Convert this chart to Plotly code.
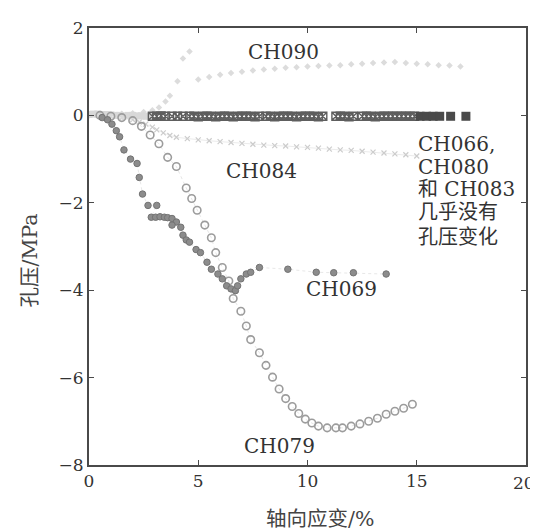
import plotly.graph_objects as go

# ---------------- data ----------------
ch090_x = [0.0, 0.5, 1.0, 1.5, 2.0, 2.5, 2.9, 3.2, 3.5, 3.7, 4.05, 4.3, 4.6,
           5.0, 5.5, 6.0, 6.5, 7.0, 7.5, 8.0, 8.5, 9.0, 9.5, 10.0, 10.5, 11.0,
           11.5, 12.0, 12.5, 13.0, 13.5, 14.0, 14.5, 15.0, 15.5, 16.0, 16.5, 17.0]
ch090_y = [0.0, 0.02, 0.03, 0.04, 0.05, 0.08, 0.12, 0.18, 0.32, 0.45, 0.78, 1.3, 1.46,
           0.82, 0.88, 0.93, 0.97, 1.0, 1.03, 1.05, 1.07, 1.09, 1.1, 1.12, 1.13, 1.14,
           1.15, 1.17, 1.18, 1.2, 1.21, 1.22, 1.2, 1.18, 1.17, 1.15, 1.14, 1.12]

ch083_x = [0.0, 0.2, 0.4, 0.6, 0.8, 1.0, 1.2, 1.4, 1.6, 1.8, 2.0, 2.2, 2.4, 2.6, 2.8]
ch083_y = [0.02, 0.03, 0.03, 0.02, 0.02, 0.01, 0.0, 0.0, -0.01, 0.0, 0.0, -0.01, -0.01, -0.02, -0.02]

ch066_x = [2.9, 3.1, 3.3, 3.5, 3.8, 4.05, 4.3,
           4.6, 4.8, 5.0, 5.2, 5.4, 5.6, 5.8, 6.0, 6.2, 6.4, 6.6, 6.8, 7.0, 7.2, 7.4, 7.6, 7.8,
           8.1, 8.3, 8.5, 8.7, 8.9, 9.1, 9.3, 9.5, 9.7, 9.9, 10.1, 10.3, 10.5, 10.7,
           11.3, 11.5, 11.7, 11.9, 12.1,
           12.5, 12.7, 12.9, 13.1, 13.3, 13.5, 13.7, 13.9,
           14.1, 14.3, 14.5, 14.7, 14.9]
ch066_y = [-0.02, -0.02, -0.01, -0.02, -0.02, -0.02, -0.02,
           -0.02, -0.02, -0.03, -0.02, -0.02, -0.02, -0.03, -0.02, -0.02, -0.02, -0.03, -0.02, -0.02, -0.02, -0.02, -0.03, -0.02,
           -0.02, -0.02, -0.03, -0.02, -0.02, -0.02, -0.02, -0.03, -0.02, -0.02, -0.02, -0.02, -0.03, -0.02,
           -0.02, -0.02, -0.02, -0.03, -0.02,
           -0.02, -0.02, -0.02, -0.03, -0.02, -0.02, -0.02, -0.02,
           -0.02, -0.02, -0.02, -0.02, -0.02]

ch080_x = [15.15, 15.45, 15.75, 16.05, 16.55, 17.25]
ch080_y = [-0.02, -0.02, -0.02, -0.02, -0.02, -0.02]

ch084_x = [0.5, 1.0, 1.5, 2.0, 2.3, 2.6, 2.9, 3.1, 3.4, 3.7, 4.0, 4.5, 5.0, 5.5, 6.0, 6.5,
           7.0, 7.5, 8.0, 8.5, 9.0, 9.5, 10.0, 10.5, 11.0, 11.5, 12.0, 12.5, 13.0, 13.5,
           14.0, 14.5, 15.0]
ch084_y = [-0.01, -0.03, -0.06, -0.1, -0.15, -0.2, -0.27, -0.33, -0.4, -0.46, -0.5, -0.53, -0.56, -0.58, -0.6, -0.62,
           -0.64, -0.66, -0.68, -0.69, -0.7, -0.72, -0.73, -0.75, -0.77, -0.79, -0.8, -0.82, -0.84, -0.86,
           -0.88, -0.9, -0.93]

ch069_x = [0.6, 0.85, 1.05, 1.25, 1.4, 1.6, 1.9, 2.2, 2.3, 2.45, 2.7, 3.1, 2.85, 3.05, 3.25, 3.45, 3.6,
           3.8, 4.0, 3.8, 4.2, 4.3, 4.45, 4.6, 4.9, 5.1, 5.4, 5.6, 5.9, 6.1, 6.3, 6.5, 6.7,
           6.8, 6.95, 7.2, 7.4, 7.8, 9.1, 10.4, 11.2, 12.1, 13.6]
ch069_y = [-0.05, -0.1, -0.2, -0.35, -0.49, -0.79, -1.0, -1.1, -1.42, -1.8, -2.06, -2.06, -2.33, -2.33, -2.32, -2.33, -2.34,
           -2.36, -2.44, -2.51, -2.56, -2.74, -2.85, -2.9, -3.07, -3.14, -3.36, -3.52, -3.63, -3.74, -3.9, -3.97, -4.01,
           -3.9, -3.74, -3.63, -3.59, -3.48, -3.52, -3.59, -3.6, -3.6, -3.63]

ch079_x = [0.5, 1.0, 1.5, 2.0, 2.4, 2.8, 3.2, 3.6, 4.0, 4.45, 4.7, 4.95, 5.3, 5.6, 5.8, 6.1, 6.4,
           6.6, 6.95, 7.2, 7.4, 7.8, 8.1, 8.4, 8.7, 9.0, 9.3, 9.6, 9.9, 10.2, 10.5, 10.9,
           11.3, 11.6, 12.0, 12.4, 12.8, 13.2, 13.6, 14.0, 14.4, 14.8]
ch079_y = [0.0, -0.02, -0.05, -0.12, -0.25, -0.45, -0.65, -0.96, -1.17, -1.66, -1.9, -2.17, -2.51, -2.8, -3.14, -3.48, -3.79,
           -4.19, -4.48, -4.82, -5.13, -5.43, -5.72, -5.99, -6.26, -6.48, -6.66, -6.82, -6.95, -7.04, -7.11, -7.15,
           -7.15, -7.15, -7.11, -7.06, -7.0, -6.93, -6.84, -6.77, -6.7, -6.61]

x_ticks = [0, 5, 10, 15, 20]
y_ticks = [2, 0, -2, -4, -6, -8]

labels = ["CH090", "CH084", "CH069", "CH079"]
label_x = [8.9, 7.9, 11.55, 8.7]
label_y = [1.46, -1.28, -3.97, -7.56]

note_lines = ["CH066,", "CH080", "和 CH083", "几乎没有", "孔压变化"]
note_x = 14.95
note_y = [-0.65, -1.17, -1.69, -2.22, -2.79]

x_title = "轴向应变/%"
y_title = "孔压/MPa"

# ---------------- figure ----------------
FONT = "DejaVu Serif, Noto Sans CJK SC, serif"
AX = "#4a4a4a"
TXT = "#333333"

# page offset of the plot div (default body margin) is compensated in the size/margins
PAGE_OFF = 8
W, H = 538 - PAGE_OFF, 531 - PAGE_OFF
ML, MR, MT, MB = 89 - PAGE_OFF, 10, 19 - PAGE_OFF, 66
PW, PH = 439, 446  # plot-area size in pixels

fig = go.Figure()

fig.add_trace(go.Scatter(x=ch090_x, y=ch090_y, mode="markers", name="CH090",
                         marker=dict(symbol="diamond", size=5, color="#dcdcdc")))
fig.add_trace(go.Scatter(x=ch084_x, y=ch084_y, mode="lines+markers", name="CH084",
                         line=dict(color="#ececec", width=1),
                         marker=dict(symbol="x-thin-open", size=5, color="#cccccc",
                                     line=dict(width=1.2, color="#cccccc"))))
fig.add_trace(go.Scatter(x=ch083_x, y=ch083_y, mode="markers", name="CH083",
                         marker=dict(symbol="square", size=7, color="#d8d8d8")))
fig.add_trace(go.Scatter(x=ch066_x, y=ch066_y, mode="markers", name="CH066",
                         marker=dict(symbol="square-x-open", size=8, color="#5e5e5e",
                                     line=dict(width=1.4, color="#5e5e5e"))))
fig.add_trace(go.Scatter(x=ch080_x, y=ch080_y, mode="markers", name="CH080",
                         marker=dict(symbol="square", size=9, color="#4a4a4a")))
fig.add_trace(go.Scatter(x=ch079_x, y=ch079_y, mode="lines+markers", name="CH079",
                         line=dict(color="#e6e6e6", width=1, dash="dot"),
                         marker=dict(symbol="circle-open", size=7.5, color="#9c9c9c",
                                     line=dict(width=1.6, color="#9c9c9c"))))
fig.add_trace(go.Scatter(x=ch069_x, y=ch069_y, mode="lines+markers", name="CH069",
                         line=dict(color="#e8e8e8", width=1, dash="dot"),
                         marker=dict(symbol="circle", size=6.5, color="#8c8c8c",
                                     line=dict(width=1, color="#737373"))))

for i, t in enumerate(labels):
    fig.add_annotation(x=label_x[i], y=label_y[i], text=t, showarrow=False,
                       xanchor="center", yanchor="middle",
                       font=dict(family=FONT, size=20, color=TXT))

for i, t in enumerate(note_lines):
    fig.add_annotation(x=note_x, y=note_y[i], text=t, showarrow=False,
                       xanchor="left", yanchor="middle",
                       font=dict(family=FONT, size=20, color=TXT))

fig.add_annotation(xref="paper", yref="paper", x=(321 - 89) / PW, y=-(520 - 465) / PH,
                   xanchor="center", yanchor="middle", text=x_title, showarrow=False,
                   font=dict(family=FONT, size=20.5, color="#444"))
fig.add_annotation(xref="paper", yref="paper", x=-(89 - 30) / PW, y=(465 - 256) / PH,
                   xanchor="center", yanchor="middle", text=y_title, textangle=-90,
                   showarrow=False, font=dict(family=FONT, size=20.5, color="#444"))

# last x tick label placed slightly left so it is not clipped by the page edge
fig.add_annotation(x=x_ticks[-1], xshift=-2, yref="paper", y=-(483 - 465) / PH,
                   xanchor="center", yanchor="middle", text=str(x_ticks[-1]),
                   showarrow=False, font=dict(family=FONT, size=17, color=TXT))

axis_common = dict(showline=True, linewidth=2, linecolor=AX, mirror="ticks",
                   ticks="inside", ticklen=5, tickwidth=1.2, tickcolor=AX,
                   showgrid=False, zeroline=False,
                   tickfont=dict(family=FONT, size=17, color=TXT))

fig.update_xaxes(range=[0, 20], tickvals=x_ticks,
                 ticktext=[str(v) if v != x_ticks[-1] else "" for v in x_ticks],
                 **axis_common)
fig.update_yaxes(range=[-8, 2], tickvals=y_ticks,
                 ticktext=[("−" + str(-v)) if v < 0 else str(v) for v in y_ticks],
                 **axis_common)

fig.update_layout(width=W, height=H, showlegend=False,
                  margin=dict(l=ML, r=MR, t=MT, b=MB),
                  plot_bgcolor="white", paper_bgcolor="white")

fig.write_html("out.html")
